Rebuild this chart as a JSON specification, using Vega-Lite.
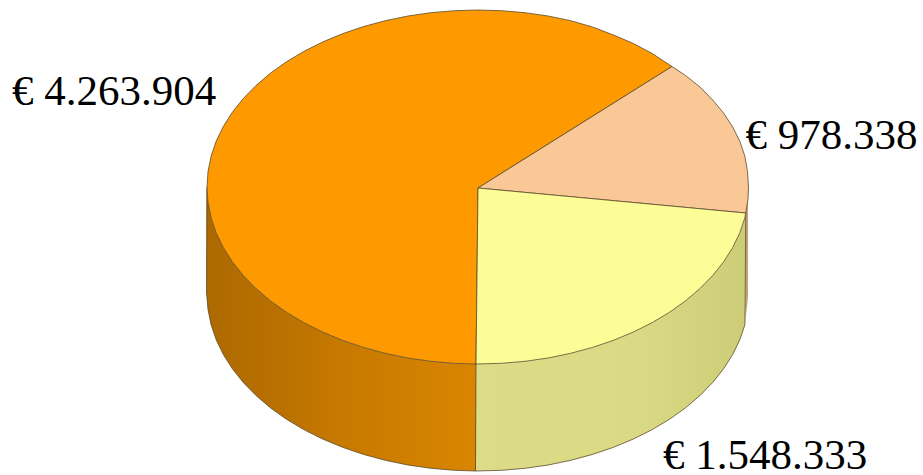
{"$schema":"https://vega.github.io/schema/vega-lite/v6.json","width":923,"height":475,"padding":0,"autosize":{"type":"none"},"background":"white","config":{"view":{"stroke":null}},
"resolve":{"scale":{"fill":"independent"}},
"layer":[
{"data":{"values":[{"x":745.7,"top":213,"bottom":318},{"x":747.5,"top":200,"bottom":302},{"x":748,"top":192,"bottom":296}]},"mark":{"type":"area","color":"#c4a078"},"encoding":{"x":{"field":"x","type":"quantitative","scale":{"domain":[0,923],"nice":false,"zero":false},"axis":null},"y":{"field":"top","type":"quantitative","scale":{"domain":[475,0],"nice":false,"zero":false},"axis":null},"y2":{"field":"bottom"}}},
{"data":{"values":[{"x":206.5,"top":187,"bottom":292},{"x":208,"top":202.4,"bottom":309.4},{"x":211.1,"top":217.7,"bottom":324.7},{"x":216.2,"top":232.8,"bottom":339.8},{"x":223.3,"top":247.5,"bottom":354.5},{"x":232.4,"top":261.8,"bottom":368.8},{"x":243.3,"top":275.5,"bottom":382.5},{"x":256,"top":288.5,"bottom":395.5},{"x":270.4,"top":300.8,"bottom":407.8},{"x":286.4,"top":312.2,"bottom":419.2},{"x":303.8,"top":322.6,"bottom":429.6},{"x":322.6,"top":332,"bottom":439},{"x":342.5,"top":340.3,"bottom":447.3},{"x":363.5,"top":347.4,"bottom":454.4},{"x":385.3,"top":353.3,"bottom":460.3},{"x":407.9,"top":358,"bottom":465},{"x":431,"top":361.3,"bottom":468.3},{"x":454.4,"top":363.3,"bottom":470.3},{"x":476,"top":364,"bottom":471}]},"mark":{"type":"area","color":{"gradient":"linear","x1":0,"x2":1,"y1":0,"y2":0,"stops":[{"offset":0,"color":"#ad6900"},{"offset":0.25,"color":"#b87000"},{"offset":0.5,"color":"#c77900"},{"offset":0.75,"color":"#d07f00"},{"offset":1,"color":"#d98500"}]}},"encoding":{"x":{"field":"x","type":"quantitative","scale":{"domain":[0,923],"nice":false,"zero":false},"axis":null},"y":{"field":"top","type":"quantitative","scale":{"domain":[475,0],"nice":false,"zero":false},"axis":null},"y2":{"field":"bottom"}}},
{"data":{"values":[{"x":476,"top":364,"bottom":471},{"x":501.6,"top":363.3,"bottom":470.3},{"x":525,"top":361.3,"bottom":468.3},{"x":548.1,"top":358,"bottom":465},{"x":570.7,"top":353.3,"bottom":460.3},{"x":592.5,"top":347.4,"bottom":454.4},{"x":613.5,"top":340.3,"bottom":447.3},{"x":633.4,"top":332,"bottom":439},{"x":652.2,"top":322.6,"bottom":429.6},{"x":669.6,"top":312.2,"bottom":419.2},{"x":685.6,"top":300.8,"bottom":407.8},{"x":700,"top":288.5,"bottom":395.5},{"x":712.7,"top":275.5,"bottom":382.5},{"x":723.6,"top":261.8,"bottom":368.8},{"x":732.7,"top":247.5,"bottom":354.5},{"x":739.8,"top":232.8,"bottom":339.8},{"x":744.9,"top":217.7,"bottom":324.7},{"x":745.7,"top":213,"bottom":314}]},"mark":{"type":"area","color":{"gradient":"linear","x1":0,"x2":1,"y1":0,"y2":0,"stops":[{"offset":0,"color":"#dcdc88"},{"offset":0.6,"color":"#dada84"},{"offset":1,"color":"#cdcd78"}]}},"encoding":{"x":{"field":"x","type":"quantitative","scale":{"domain":[0,923],"nice":false,"zero":false},"axis":null},"y":{"field":"top","type":"quantitative","scale":{"domain":[475,0],"nice":false,"zero":false},"axis":null},"y2":{"field":"bottom"}}},
{"data":{"values":[
{"edge":"rim","seq":0,"x":207,"y":187},{"edge":"rim","seq":1,"x":206.5,"y":292},{"edge":"rim","seq":2,"x":208,"y":309.4},{"edge":"rim","seq":3,"x":211.1,"y":324.7},{"edge":"rim","seq":4,"x":216.2,"y":339.8},{"edge":"rim","seq":5,"x":223.3,"y":354.5},{"edge":"rim","seq":6,"x":232.4,"y":368.8},{"edge":"rim","seq":7,"x":243.3,"y":382.5},{"edge":"rim","seq":8,"x":256,"y":395.5},{"edge":"rim","seq":9,"x":270.4,"y":407.8},{"edge":"rim","seq":10,"x":286.4,"y":419.2},{"edge":"rim","seq":11,"x":303.8,"y":429.6},{"edge":"rim","seq":12,"x":322.6,"y":439},{"edge":"rim","seq":13,"x":342.5,"y":447.3},{"edge":"rim","seq":14,"x":363.5,"y":454.4},{"edge":"rim","seq":15,"x":385.3,"y":460.3},{"edge":"rim","seq":16,"x":407.9,"y":465},{"edge":"rim","seq":17,"x":431,"y":468.3},{"edge":"rim","seq":18,"x":454.4,"y":470.3},{"edge":"rim","seq":19,"x":476,"y":471},{"edge":"rim","seq":20,"x":501.6,"y":470.3},{"edge":"rim","seq":21,"x":525,"y":468.3},{"edge":"rim","seq":22,"x":548.1,"y":465},{"edge":"rim","seq":23,"x":570.7,"y":460.3},{"edge":"rim","seq":24,"x":592.5,"y":454.4},{"edge":"rim","seq":25,"x":613.5,"y":447.3},{"edge":"rim","seq":26,"x":633.4,"y":439},{"edge":"rim","seq":27,"x":652.2,"y":429.6},{"edge":"rim","seq":28,"x":669.6,"y":419.2},{"edge":"rim","seq":29,"x":685.6,"y":407.8},{"edge":"rim","seq":30,"x":700,"y":395.5},{"edge":"rim","seq":31,"x":712.7,"y":382.5},{"edge":"rim","seq":32,"x":723.6,"y":368.8},{"edge":"rim","seq":33,"x":732.7,"y":354.5},{"edge":"rim","seq":34,"x":739.8,"y":339.8},{"edge":"rim","seq":35,"x":744.9,"y":324.7},{"edge":"rim","seq":36,"x":745.2,"y":300},{"edge":"rim","seq":37,"x":745.7,"y":213},
{"edge":"split","seq":0,"x":476,"y":364},{"edge":"split","seq":1,"x":475.5,"y":471}]},"mark":{"type":"line","stroke":"#5a4a2a","strokeWidth":0.8},"encoding":{"x":{"field":"x","type":"quantitative","scale":{"domain":[0,923],"nice":false,"zero":false},"axis":null},"y":{"field":"y","type":"quantitative","scale":{"domain":[475,0],"nice":false,"zero":false},"axis":null},"detail":{"field":"edge"},"order":{"field":"seq","type":"quantitative"}}},
{"data":{"values":[
{"slice":"€ 4.263.904","seq":0,"x":478,"y":188},{"slice":"€ 4.263.904","seq":1,"x":672,"y":66.5},{"slice":"€ 4.263.904","seq":2,"x":652.2,"y":53.5},{"slice":"€ 4.263.904","seq":3,"x":633.4,"y":43.5},{"slice":"€ 4.263.904","seq":4,"x":613.5,"y":35},{"slice":"€ 4.263.904","seq":5,"x":592.5,"y":27},{"slice":"€ 4.263.904","seq":6,"x":570.7,"y":20.7},{"slice":"€ 4.263.904","seq":7,"x":548.1,"y":16},{"slice":"€ 4.263.904","seq":8,"x":525,"y":12.7},{"slice":"€ 4.263.904","seq":9,"x":501.6,"y":10.7},{"slice":"€ 4.263.904","seq":10,"x":478,"y":10},{"slice":"€ 4.263.904","seq":11,"x":454.4,"y":10.7},{"slice":"€ 4.263.904","seq":12,"x":431,"y":12.7},{"slice":"€ 4.263.904","seq":13,"x":407.9,"y":16},{"slice":"€ 4.263.904","seq":14,"x":385.3,"y":20.7},{"slice":"€ 4.263.904","seq":15,"x":363.5,"y":26.6},{"slice":"€ 4.263.904","seq":16,"x":342.5,"y":33.7},{"slice":"€ 4.263.904","seq":17,"x":322.6,"y":42},{"slice":"€ 4.263.904","seq":18,"x":303.8,"y":51.4},{"slice":"€ 4.263.904","seq":19,"x":286.4,"y":61.8},{"slice":"€ 4.263.904","seq":20,"x":270.4,"y":73.2},{"slice":"€ 4.263.904","seq":21,"x":256,"y":85.5},{"slice":"€ 4.263.904","seq":22,"x":243.3,"y":98.5},{"slice":"€ 4.263.904","seq":23,"x":232.4,"y":112.2},{"slice":"€ 4.263.904","seq":24,"x":223.3,"y":126.5},{"slice":"€ 4.263.904","seq":25,"x":216.2,"y":141.2},{"slice":"€ 4.263.904","seq":26,"x":211.1,"y":156.3},{"slice":"€ 4.263.904","seq":27,"x":208,"y":171.6},{"slice":"€ 4.263.904","seq":28,"x":207,"y":187},{"slice":"€ 4.263.904","seq":29,"x":208,"y":202.4},{"slice":"€ 4.263.904","seq":30,"x":211.1,"y":217.7},{"slice":"€ 4.263.904","seq":31,"x":216.2,"y":232.8},{"slice":"€ 4.263.904","seq":32,"x":223.3,"y":247.5},{"slice":"€ 4.263.904","seq":33,"x":232.4,"y":261.8},{"slice":"€ 4.263.904","seq":34,"x":243.3,"y":275.5},{"slice":"€ 4.263.904","seq":35,"x":256,"y":288.5},{"slice":"€ 4.263.904","seq":36,"x":270.4,"y":300.8},{"slice":"€ 4.263.904","seq":37,"x":286.4,"y":312.2},{"slice":"€ 4.263.904","seq":38,"x":303.8,"y":322.6},{"slice":"€ 4.263.904","seq":39,"x":322.6,"y":332},{"slice":"€ 4.263.904","seq":40,"x":342.5,"y":340.3},{"slice":"€ 4.263.904","seq":41,"x":363.5,"y":347.4},{"slice":"€ 4.263.904","seq":42,"x":385.3,"y":353.3},{"slice":"€ 4.263.904","seq":43,"x":407.9,"y":358},{"slice":"€ 4.263.904","seq":44,"x":431,"y":361.3},{"slice":"€ 4.263.904","seq":45,"x":454.4,"y":363.3},{"slice":"€ 4.263.904","seq":46,"x":476,"y":364},{"slice":"€ 4.263.904","seq":47,"x":478,"y":188},
{"slice":"€ 978.338","seq":0,"x":478,"y":188},{"slice":"€ 978.338","seq":1,"x":672,"y":66.5},{"slice":"€ 978.338","seq":2,"x":685.6,"y":75.5},{"slice":"€ 978.338","seq":3,"x":700,"y":87},{"slice":"€ 978.338","seq":4,"x":712.7,"y":100},{"slice":"€ 978.338","seq":5,"x":723.6,"y":113},{"slice":"€ 978.338","seq":6,"x":732.7,"y":127},{"slice":"€ 978.338","seq":7,"x":739.8,"y":141.2},{"slice":"€ 978.338","seq":8,"x":744.9,"y":156.3},{"slice":"€ 978.338","seq":9,"x":747.5,"y":171.6},{"slice":"€ 978.338","seq":10,"x":748.5,"y":187},{"slice":"€ 978.338","seq":11,"x":748,"y":199},{"slice":"€ 978.338","seq":12,"x":745.7,"y":213},{"slice":"€ 978.338","seq":13,"x":478,"y":188},
{"slice":"€ 1.548.333","seq":0,"x":478,"y":188},{"slice":"€ 1.548.333","seq":1,"x":745.7,"y":213},{"slice":"€ 1.548.333","seq":2,"x":744.9,"y":217.7},{"slice":"€ 1.548.333","seq":3,"x":739.8,"y":232.8},{"slice":"€ 1.548.333","seq":4,"x":732.7,"y":247.5},{"slice":"€ 1.548.333","seq":5,"x":723.6,"y":261.8},{"slice":"€ 1.548.333","seq":6,"x":712.7,"y":275.5},{"slice":"€ 1.548.333","seq":7,"x":700,"y":288.5},{"slice":"€ 1.548.333","seq":8,"x":685.6,"y":300.8},{"slice":"€ 1.548.333","seq":9,"x":669.6,"y":312.2},{"slice":"€ 1.548.333","seq":10,"x":652.2,"y":322.6},{"slice":"€ 1.548.333","seq":11,"x":633.4,"y":332},{"slice":"€ 1.548.333","seq":12,"x":613.5,"y":340.3},{"slice":"€ 1.548.333","seq":13,"x":592.5,"y":347.4},{"slice":"€ 1.548.333","seq":14,"x":570.7,"y":353.3},{"slice":"€ 1.548.333","seq":15,"x":548.1,"y":358},{"slice":"€ 1.548.333","seq":16,"x":525,"y":361.3},{"slice":"€ 1.548.333","seq":17,"x":501.6,"y":363.3},{"slice":"€ 1.548.333","seq":18,"x":476,"y":364},{"slice":"€ 1.548.333","seq":19,"x":478,"y":188}]},
"mark":{"type":"line","stroke":"#5a4a2a","strokeWidth":0.8,"strokeJoin":"round"},
"encoding":{"x":{"field":"x","type":"quantitative","scale":{"domain":[0,923],"nice":false,"zero":false},"axis":null},"y":{"field":"y","type":"quantitative","scale":{"domain":[475,0],"nice":false,"zero":false},"axis":null},"detail":{"field":"slice"},"order":{"field":"seq","type":"quantitative"},"fill":{"field":"slice","type":"nominal","legend":null,"scale":{"domain":["€ 4.263.904","€ 978.338","€ 1.548.333"],"range":["#ff9900","#f9c896","#fdfd98"]}}}},
{"data":{"values":[{"label":"€ 4.263.904","x":12,"y":105},{"label":"€ 978.338","x":745.5,"y":149},{"label":"€ 1.548.333","x":663,"y":469}]},"mark":{"type":"text","font":"Liberation Serif","fontSize":43,"align":"left","baseline":"alphabetic","color":"black"},"encoding":{"x":{"field":"x","type":"quantitative","scale":{"domain":[0,923],"nice":false,"zero":false},"axis":null},"y":{"field":"y","type":"quantitative","scale":{"domain":[475,0],"nice":false,"zero":false},"axis":null},"text":{"field":"label","type":"nominal"}}}
]}
